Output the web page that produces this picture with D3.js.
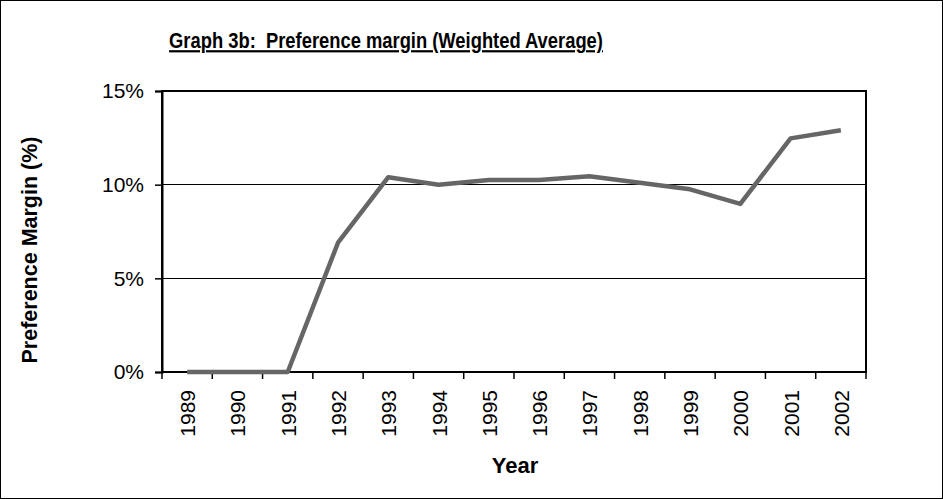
<!DOCTYPE html>
<html>
<head>
<meta charset="utf-8">
<script src="https://cdn.jsdelivr.net/npm/d3@7"></script>
<style>
  html, body { margin: 0; padding: 0; background: #fff; }
  svg text { font-family: "Liberation Sans", Arial, sans-serif; fill: #000; }
</style>
</head>
<body>
<svg id="chart" width="943" height="499"></svg>
<script>
// ===== DATA =====
const years  = ['1989', '1990', '1991', '1992', '1993', '1994', '1995', '1996', '1997', '1998', '1999', '2000', '2001', '2002'];
const margin = [0, 0, 0, 6.9, 10.4, 10.0, 10.25, 10.25, 10.45, 10.1, 9.75, 8.97, 12.47, 12.9];
const yTicks = [0, 5, 10, 15];

const W = 943, H = 499;
const plot = { left: 162, right: 866, top: 91, bottom: 372 };

const svg = d3.select('#chart');

// Outer border
svg.append('rect')
    .attr('x', 0.5).attr('y', 0.5)
    .attr('width', W - 1).attr('height', H - 1)
    .attr('fill', '#fff')
    .attr('stroke', '#000')
    .attr('stroke-width', 1);

const x = d3.scaleBand()
    .domain(years)
    .range([plot.left, plot.right])
    .paddingInner(0).paddingOuter(0);

const y = d3.scaleLinear()
    .domain([0, 15])
    .range([plot.bottom, plot.top]);

// Gridlines
svg.append('g')
    .selectAll('line')
    .data(yTicks.filter(d => d > 0 && d < 15))
    .enter().append('line')
    .attr('x1', plot.left).attr('x2', plot.right)
    .attr('y1', d => y(d)).attr('y2', d => y(d))
    .attr('stroke', '#000')
    .attr('stroke-width', 1)
    .attr('shape-rendering', 'crispEdges');

// Plot area frame
svg.append('rect')
    .attr('x', plot.left).attr('y', plot.top)
    .attr('width', plot.right - plot.left)
    .attr('height', plot.bottom - plot.top)
    .attr('fill', 'none')
    .attr('stroke', '#000')
    .attr('stroke-width', 2);

// Y axis
const yAxis = svg.append('g')
    .attr('transform', `translate(${plot.left},0)`)
    .call(d3.axisLeft(y).tickValues(yTicks).tickFormat(d => d + '%').tickSize(7).tickPadding(11));
yAxis.select('.domain').attr('stroke-width', 2);
yAxis.selectAll('.tick line').attr('stroke-width', 1.5);
yAxis.selectAll('text').attr('font-size', 21).attr('font-family', null);

// X axis: ticks sit between categories
const xAxis = svg.append('g')
    .attr('transform', `translate(0,${plot.bottom})`);
xAxis.append('line')
    .attr('x1', plot.left).attr('x2', plot.right)
    .attr('stroke', '#000').attr('stroke-width', 2);
const bounds = years.map(d => x(d)).concat([x(years[years.length - 1]) + x.bandwidth()]);
xAxis.selectAll('.xtick')
    .data(bounds)
    .enter().append('line')
    .attr('x1', d => d).attr('x2', d => d)
    .attr('y1', 0).attr('y2', 7)
    .attr('stroke', '#000').attr('stroke-width', 1.5);
xAxis.selectAll('.xlabel')
    .data(years)
    .enter().append('text')
    .attr('transform', d => `translate(${x(d) + x.bandwidth() / 2 + 8},18) rotate(-90)`)
    .attr('text-anchor', 'end')
    .attr('font-size', 21)
    .text(d => d);

// Line
svg.append('path')
    .datum(margin)
    .attr('fill', 'none')
    .attr('stroke', '#666666')
    .attr('stroke-width', 4.5)
    .attr('stroke-linejoin', 'round')
    .attr('d', d3.line()
        .x((d, i) => x(years[i]) + x.bandwidth() / 2)
        .y(d => y(d)));

// Title (narrow, tall lettering)
svg.append('text')
    .attr('transform', 'translate(386,48) scale(0.835,1)')
    .attr('text-anchor', 'middle')
    .attr('font-size', 22)
    .attr('font-weight', 'bold')
    .attr('text-decoration', 'underline')
    .style('white-space', 'pre')
    .text('Graph 3b:  Preference margin (Weighted Average)');

// Axis titles
svg.append('text')
    .attr('transform', `translate(37,250) rotate(-90)`)
    .attr('text-anchor', 'middle')
    .attr('font-size', 21.5)
    .attr('font-weight', 'bold')
    .text('Preference Margin (%)');

svg.append('text')
    .attr('x', 515).attr('y', 473)
    .attr('text-anchor', 'middle')
    .attr('font-size', 22)
    .attr('font-weight', 'bold')
    .text('Year');
</script>
</body>
</html>
